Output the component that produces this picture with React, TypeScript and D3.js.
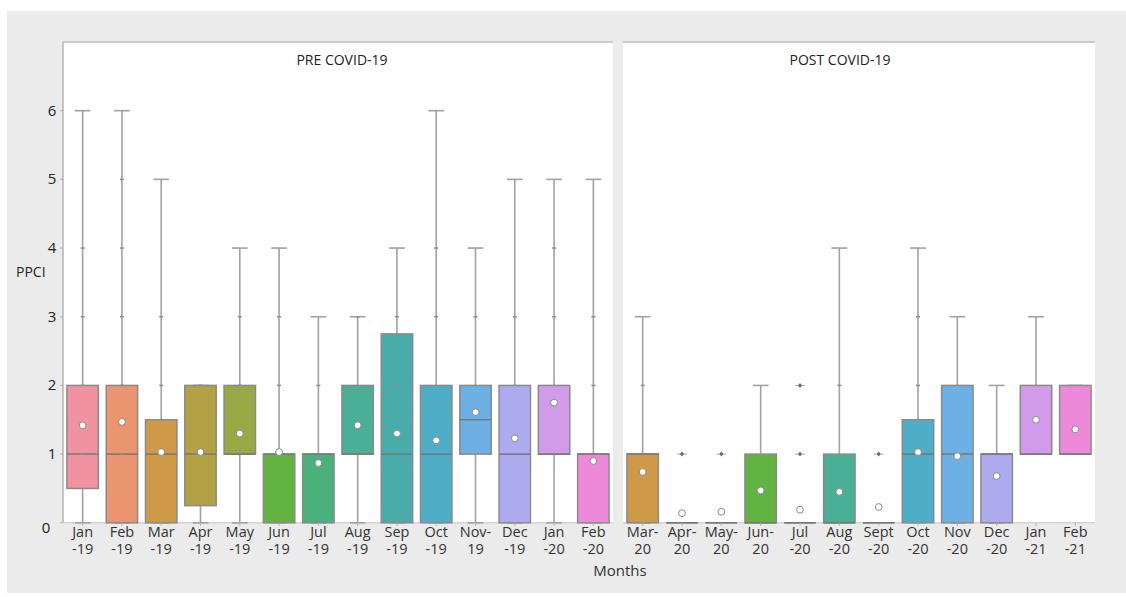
import React from "react";
import * as d3 from "d3";

// ---- Pre COVID-19 (Jan-19 .. Feb-20) ----
const preLabels = [
  ["Jan", "-19"], ["Feb", "-19"], ["Mar", "-19"], ["Apr", "-19"], ["May", "-19"],
  ["Jun", "-19"], ["Jul", "-19"], ["Aug", "-19"], ["Sep", "-19"], ["Oct", "-19"],
  ["Nov-", "19"], ["Dec", "-19"], ["Jan", "-20"], ["Feb", "-20"],
];
const preQ1 = [0.5, 0, 0, 0.25, 1, 0, 0, 1, 0, 0, 1, 0, 1, 0];
const preMedian = [1, 1, 1, 1, 1, 1, 1, 1, 1, 1, 1.5, 1, 1, 1];
const preQ3 = [2, 2, 1.5, 2, 2, 1, 1, 2, 2.75, 2, 2, 2, 2, 1];
const preLow = [0, 0, 0, 0, 0, 0, 0, 0, 0, 0, 0, 0, 0, 0];
const preHigh = [6, 6, 5, 2, 4, 4, 3, 3, 4, 6, 4, 5, 5, 5];
const preMean = [1.42, 1.47, 1.03, 1.03, 1.3, 1.03, 0.87, 1.42, 1.3, 1.2, 1.61, 1.23, 1.75, 0.9];
const prePoints = [
  [1, 2, 3, 4], [1, 2, 3, 4, 5], [2, 3], [2], [2, 3], [2, 3], [2], [3],
  [2, 3], [3, 4], [3], [3], [3, 4], [2, 3],
];
const preFliers: number[][] = [[], [], [], [], [], [], [], [], [], [], [], [], [], []];
const preColors = [
  "#f0929f", "#ea9470", "#cf9a47", "#b2a245", "#98a845", "#63b343", "#4ab17d",
  "#4aaf95", "#4aabab", "#4eaec7", "#6cb0e6", "#aeaaf0", "#d29be9", "#ec8ad9",
];

// ---- Post COVID-19 (Mar-20 .. Feb-21) ----
const postLabels = [
  ["Mar-", "20"], ["Apr-", "20"], ["May-", "20"], ["Jun-", "20"], ["Jul", "-20"],
  ["Aug", "-20"], ["Sept", "-20"], ["Oct", "-20"], ["Nov", "-20"], ["Dec", "-20"],
  ["Jan", "-21"], ["Feb", "-21"],
];
const postQ1 = [0, 0, 0, 0, 0, 0, 0, 0, 0, 0, 1, 1];
const postMedian = [1, 0, 0, 0, 0, 0, 0, 1, 1, 1, 1, 1];
const postQ3 = [1, 0, 0, 1, 0, 1, 0, 1.5, 2, 1, 2, 2];
const postLow = [0, 0, 0, 0, 0, 0, 0, 0, 0, 0, 1, 1];
const postHigh = [3, 0, 0, 2, 0, 4, 0, 4, 3, 2, 3, 2];
const postMean = [0.74, 0.14, 0.16, 0.47, 0.19, 0.45, 0.23, 1.03, 0.97, 0.68, 1.5, 1.36];
const postPoints = [[2], [], [], [], [], [2], [], [2, 3], [], [], [], []];
const postFliers = [[], [1], [1], [], [1, 2], [], [1], [], [], [], [], []];
const postColors = [
  "#cf9a47", "#b2a245", "#98a845", "#63b343", "#4ab17d", "#4aaf95",
  "#4aabab", "#4eaec7", "#6cb0e6", "#aeaaf0", "#d29be9", "#ec8ad9",
];

const yTicks = [0, 1, 2, 3, 4, 5, 6];

const FONT = "'Open Sans', 'DejaVu Sans', sans-serif";
const TOP = 42;
const BASE = 522.8;

const y = d3.scaleLinear().domain([0, 7]).range([BASE, TOP]);

type PanelProps = {
  title: string;
  titleX: number;
  x0: number;
  x1: number;
  labels: string[][];
  q1: number[];
  median: number[];
  q3: number[];
  low: number[];
  high: number[];
  mean: number[];
  points: number[][];
  fliers: number[][];
  colors: string[];
};

function Panel(p: PanelProps) {
  const keys = p.labels.map((l) => l.join(""));
  const x = d3.scaleBand<string>().domain(keys).range([p.x0, p.x1]).padding(0);
  const bw = x.bandwidth() * 0.8;
  const capW = bw / 2;
  const stroke = "#8a8a8a";
  const whisk = "#a2a2a2";
  return (
    <g>
      <rect x={p.x0} y={TOP} width={p.x1 - p.x0} height={BASE - TOP} fill="#ffffff" />
      <line x1={p.x0} x2={p.x1} y1={TOP} y2={TOP} stroke="#bdbdbd" strokeWidth={1.5} />
      <line x1={p.x0} x2={p.x1} y1={BASE} y2={BASE} stroke="#c4c4c4" strokeWidth={1} />
      <text x={p.titleX} y={65} textAnchor="middle" fontFamily={FONT} fontSize={14} fill="#222">
        {p.title}
      </text>
      {keys.map((k, i) => {
        const cx = (x(k) as number) + x.bandwidth() / 2;
        const bx = cx - bw / 2;
        return (
          <g key={k}>
            {/* whisker */}
            {p.high[i] > p.low[i] && (
              <g>
                <line x1={cx} x2={cx} y1={y(p.low[i])} y2={y(p.high[i])} stroke={whisk} strokeWidth={1.6} />
                <line x1={cx - capW / 2} x2={cx + capW / 2} y1={y(p.high[i])} y2={y(p.high[i])} stroke={whisk} strokeWidth={1.6} />
                <line x1={cx - capW / 2} x2={cx + capW / 2} y1={y(p.low[i])} y2={y(p.low[i])} stroke={whisk} strokeWidth={1.6} />
              </g>
            )}
            {/* box */}
            {p.q3[i] > p.q1[i] ? (
              <rect
                x={bx}
                y={y(p.q3[i])}
                width={bw}
                height={y(p.q1[i]) - y(p.q3[i])}
                fill={p.colors[i]}
                stroke={stroke}
                strokeWidth={1.5}
              />
            ) : (
              <line x1={bx} x2={bx + bw} y1={y(p.q1[i])} y2={y(p.q1[i])} stroke={stroke} strokeWidth={1.5} />
            )}
            <line x1={bx} x2={bx + bw} y1={y(p.median[i])} y2={y(p.median[i])} stroke="#777" strokeWidth={1.5} />
            {/* observed values */}
            {p.points[i].map((v) => (
              <line key={"p" + v} x1={cx - 2} x2={cx + 2} y1={y(v)} y2={y(v)} stroke="#8c8c8c" strokeWidth={1.5} />
            ))}
            {p.fliers[i].map((v) => (
              <g key={"f" + v}>
                <line x1={cx - 5} x2={cx + 5} y1={y(v)} y2={y(v)} stroke="#aaa" strokeWidth={1} />
                <path
                  d={`M${cx},${y(v) - 2.5}L${cx + 2},${y(v)}L${cx},${y(v) + 2.5}L${cx - 2},${y(v)}Z`}
                  fill="#6a6a6a"
                />
              </g>
            ))}
            {/* mean */}
            <circle cx={cx} cy={y(p.mean[i])} r={3.4} fill="#ffffff" stroke="#8a8a8a" strokeWidth={1} />
            {/* category tick + label */}
            <line x1={cx} x2={cx} y1={BASE} y2={BASE + 3} stroke="#b0b0b0" />
            <text x={cx} y={537} textAnchor="middle" fontFamily={FONT} fontSize={14.5} fill="#333">
              {p.labels[i][0]}
            </text>
            <text x={cx} y={554} textAnchor="middle" fontFamily={FONT} fontSize={14.5} fill="#333">
              {p.labels[i][1]}
            </text>
          </g>
        );
      })}
    </g>
  );
}

export default function App() {
  return (
    <svg width={1126} height={597} style={{ position: "absolute", left: 0, top: 0 }}>
      <rect x={0} y={0} width={1126} height={597} fill="#ffffff" />
      <rect x={7} y={11} width={1119} height={582} fill="#ebebeb" />
      <Panel
        title="PRE COVID-19"
        titleX={342}
        x0={63}
        x1={613}
        labels={preLabels}
        q1={preQ1}
        median={preMedian}
        q3={preQ3}
        low={preLow}
        high={preHigh}
        mean={preMean}
        points={prePoints}
        fliers={preFliers}
        colors={preColors}
      />
      <Panel
        title="POST COVID-19"
        titleX={840}
        x0={623}
        x1={1095}
        labels={postLabels}
        q1={postQ1}
        median={postMedian}
        q3={postQ3}
        low={postLow}
        high={postHigh}
        mean={postMean}
        points={postPoints}
        fliers={postFliers}
        colors={postColors}
      />
      {/* y axis */}
      <line x1={63} x2={63} y1={TOP} y2={BASE} stroke="#b5b5b5" strokeWidth={1.5} />
      {yTicks.map((t) => (
        <g key={t}>
          <line x1={60} x2={63} y1={y(t)} y2={y(t)} stroke="#b5b5b5" />
          <text
            x={t === 0 ? 46 : 52}
            y={t === 0 ? y(t) + 10 : y(t) + 5}
            textAnchor="middle"
            fontFamily={FONT}
            fontSize={15}
            fill="#222"
          >
            {t}
          </text>
        </g>
      ))}
      <text x={16} y={277} fontFamily={FONT} fontSize={14} fill="#222">
        PPCI
      </text>
      <text x={620} y={576} textAnchor="middle" fontFamily={FONT} fontSize={15} fill="#333">
        Months
      </text>
    </svg>
  );
}
